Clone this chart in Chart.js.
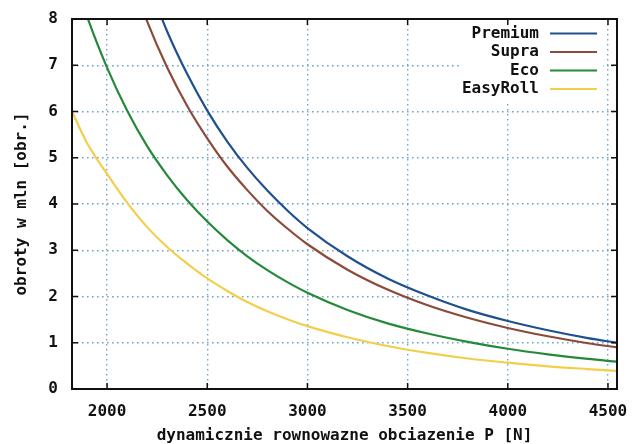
<!DOCTYPE html>
<html>
<head>
<meta charset="utf-8">
<script src="https://cdn.jsdelivr.net/npm/chart.js@4.4.1/dist/chart.umd.min.js"></script>
<style>
  html, body { margin: 0; padding: 0; background: #ffffff; }
  #wrap { width: 633px; height: 444px; }
</style>
</head>
<body>
<div id="wrap"><canvas id="chart"></canvas></div>
<script>
// Load P [N] (x positions of the samples)
const loads = [1825, 1900, 2000, 2100, 2200, 2300, 2400, 2500, 2600, 2700, 2800, 2900, 3000, 3200, 3400, 3600, 3800, 4000, 4200, 4400, 4545];

// Life in million revolutions for each bearing line
const premium  = [null, null, null, null, 8.84, 7.73, 6.81, 6.02, 5.35, 4.78, 4.29, 3.86, 3.48, 2.87, 2.39, 2.02, 1.71, 1.47, 1.27, 1.10, 1.00];
const supra    = [null, null, null, 9.14, 7.95, 6.95, 6.12, 5.42, 4.81, 4.30, 3.85, 3.47, 3.13, 2.58, 2.15, 1.81, 1.54, 1.32, 1.14, 0.99, 0.90];
const eco      = [9.10, 8.06, 6.95, 6.02, 5.25, 4.62, 4.08, 3.62, 3.22, 2.87, 2.57, 2.31, 2.08, 1.71, 1.42, 1.20, 1.02, 0.87, 0.75, 0.65, 0.59];
const easyRoll = [6.00, 5.32, 4.65, 4.03, 3.50, 3.07, 2.71, 2.39, 2.12, 1.88, 1.68, 1.51, 1.36, 1.12, 0.93, 0.78, 0.66, 0.57, 0.49, 0.43, 0.39];

const seriesNames = ["Premium", "Supra", "Eco", "EasyRoll"];
const seriesColors = ["#21508e", "#8c4a3b", "#26893a", "#f2cf4a"];

const xTicks = [2000, 2500, 3000, 3500, 4000, 4500];
const yTicks = [0, 1, 2, 3, 4, 5, 6, 7, 8];

const monoBold = { family: "'DejaVu Sans Mono', monospace", size: 16, weight: "bold" };
const gridColor = "#6fa6cf";

function toPoints(values) {
    return loads.map((x, i) => ({ x: x, y: values[i] }));
}

const allSeries = [premium, supra, eco, easyRoll];

// Frame, inner tick marks and gnuplot-style legend
const gnuplotFrame = {
    id: "gnuplotFrame",
    beforeDatasetsDraw(chart) {
        // white box behind the legend
        const { ctx, chartArea } = chart;
        ctx.save();
        ctx.fillStyle = "#ffffff";
        ctx.fillRect(chartArea.right - 155, chartArea.top + 2, 141, 80);
        ctx.restore();
    },
    afterDraw(chart) {
        const { ctx, chartArea, scales } = chart;
        ctx.save();
        ctx.strokeStyle = "#111111";
        ctx.lineWidth = 2;
        ctx.strokeRect(chartArea.left, chartArea.top, chartArea.right - chartArea.left, chartArea.bottom - chartArea.top);

        ctx.lineWidth = 1.5;
        ctx.beginPath();
        xTicks.forEach(v => {
            const px = scales.x.getPixelForValue(v);
            ctx.moveTo(px, chartArea.bottom); ctx.lineTo(px, chartArea.bottom - 6);
            ctx.moveTo(px, chartArea.top); ctx.lineTo(px, chartArea.top + 6);
        });
        yTicks.forEach(v => {
            const py = scales.y.getPixelForValue(v);
            ctx.moveTo(chartArea.left, py); ctx.lineTo(chartArea.left + 6, py);
            ctx.moveTo(chartArea.right, py); ctx.lineTo(chartArea.right - 6, py);
        });
        ctx.stroke();

        // legend
        ctx.font = "bold 16px 'DejaVu Sans Mono', monospace";
        ctx.textAlign = "right";
        ctx.textBaseline = "middle";
        chart.data.datasets.forEach((ds, i) => {
            const y = chartArea.top + 14.5 + i * 18.5;
            ctx.fillStyle = "#111111";
            ctx.fillText(ds.label, chartArea.right - 78, y);
            ctx.strokeStyle = ds.borderColor;
            ctx.lineWidth = 2.2;
            ctx.beginPath();
            ctx.moveTo(chartArea.right - 67, y);
            ctx.lineTo(chartArea.right - 20, y);
            ctx.stroke();
        });
        ctx.restore();
    }
};

const ctx = document.getElementById("chart").getContext("2d");

new Chart(ctx, {
    type: "line",
    data: {
        datasets: seriesNames.map((name, i) => ({
            label: name,
            data: toPoints(allSeries[i]),
            borderColor: seriesColors[i],
            borderWidth: 2.2,
            pointRadius: 0,
            fill: false,
            cubicInterpolationMode: "monotone"
        }))
    },
    options: {
        responsive: true,
        maintainAspectRatio: false,
        animation: false,
        layout: { padding: { top: 19, right: 16, left: 0, bottom: 0 } },
        plugins: {
            legend: { display: false },
            tooltip: { enabled: false }
        },
        scales: {
            x: {
                type: "linear",
                min: 1825,
                max: 4545,
                afterBuildTicks: scale => { scale.ticks = xTicks.map(v => ({ value: v })); },
                afterFit: scale => { scale.height = 55; scale.paddingLeft = 0; scale.paddingRight = 0; },
                ticks: { color: "#111111", font: monoBold, padding: 13, maxRotation: 0, callback: v => String(v) },
                grid: { color: gridColor, lineWidth: 1.4, drawTicks: false },
                border: { display: false, dash: [1.6, 3.4] },
                title: {
                    display: true,
                    text: "dynamicznie rownowazne obciazenie P [N]",
                    color: "#111111",
                    font: Object.assign({}, monoBold, { lineHeight: 1 }),
                    padding: { top: 0, bottom: 0 }
                }
            },
            y: {
                min: 0,
                max: 8,
                afterBuildTicks: scale => { scale.ticks = yTicks.map(v => ({ value: v })); },
                afterFit: scale => { scale.width = 72; scale.paddingTop = 0; scale.paddingBottom = 0; },
                ticks: { color: "#111111", font: monoBold, padding: 14 },
                grid: { color: gridColor, lineWidth: 1.4, drawTicks: false },
                border: { display: false, dash: [1.6, 3.4] },
                title: {
                    display: true,
                    text: "obroty w mln [obr.]",
                    color: "#111111",
                    font: Object.assign({}, monoBold, { lineHeight: 1 }),
                    padding: { top: 14, bottom: 0 }
                }
            }
        }
    },
    plugins: [gnuplotFrame]
});
</script>
</body>
</html>
